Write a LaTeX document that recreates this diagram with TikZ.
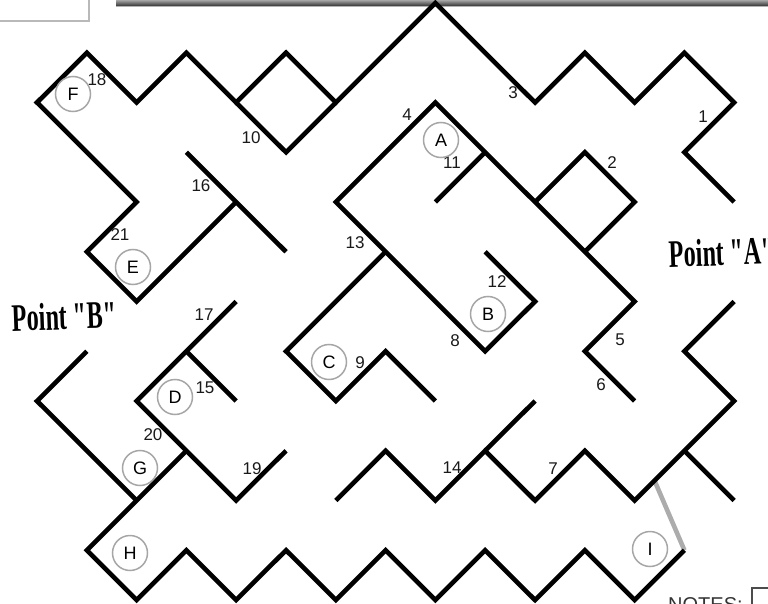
\documentclass[tikz,border=0pt]{standalone}
\usepackage{fontspec}
\setmainfont{Liberation Sans}
\newfontfamily\ptfont{Liberation Serif}
\begin{document}
\begin{tikzpicture}[x=1pt,y=-1pt,
  wall/.style={line width=4.6pt, black, line join=miter},
  lbl/.style={font=\fontsize{17}{17}\selectfont, inner sep=0pt, text=black!90},
  circ/.style={circle, draw=gray!70, line width=1.5pt, minimum size=35pt, inner sep=0pt, font=\fontsize{18}{18}\selectfont},
  ptlbl/.style={inner sep=0pt, font=\ptfont\bfseries\fontsize{39}{39}\selectfont}]
\useasboundingbox (0,0) rectangle (768,604);
% frames at the edges
\draw[gray!55, line width=1.5pt] (-5,-5) rectangle (89,21);
\shade[top color=gray!40, bottom color=black!80] (116,-2) rectangle (775,6);
\draw[gray!60, line width=1pt] (116,7) -- (775,7);
\node[anchor=north west, inner sep=0pt, font=\fontsize{20}{20}\selectfont, text=black!80] (notes) at (668,597.5) {NOTES:};
\draw[black!70, line width=1.5pt] (752,610) -- (752,588) -- (780,588);
% maze walls on the diagonal lattice
\begin{scope}[shift={(37pt,-3pt)}, x=49.8pt, y=-49.75pt]
\draw[line width=4.6pt, gray!65] (13,11) -- (12.4,9.6);
\draw[wall] (4,4)--(2,6)--(1,5)--(2,4)--(0,2)--(1,1)--(2,2)--(3,1)--(4,2)--(5,1)--(6,2)--(8,0)--(10,2)--(11,1)--(12,2)--(13,1)--(14,2)--(13,3)--(14,4);
\draw[wall] (4,2)--(5,3)--(6,2);
\draw[wall] (3,3)--(5,5);
\draw[wall] (9,5)--(10,6)--(9,7)--(6,4)--(8,2)--(12,6)--(11,7)--(12,8);
\draw[wall] (9,3)--(8,4);
\draw[wall] (10,4)--(11,3)--(12,4)--(11,5);
\draw[wall] (7,5)--(5,7)--(6,8)--(7,7)--(8,8);
\draw[wall] (14,6)--(13,7)--(14,8)--(12,10)--(11,9)--(10,10)--(9,9)--(8,10)--(7,9)--(6,10);
\draw[wall] (13,9)--(14,10);
\draw[wall] (9,9)--(10,8);
\draw[wall] (1,7)--(0,8)--(2,10);
\draw[wall] (4,6)--(3,7)--(2,8)--(4,10)--(5,9);
\draw[wall] (3,7)--(4,8);
\draw[wall] (3,9)--(1,11)--(2,12)--(3,11)--(4,12)--(5,11)--(6,12)--(7,11)--(8,12)--(9,11)--(10,12)--(11,11)--(12,12)--(13,11);
\end{scope}
% numbers
\node[lbl] (n1) at (703,117) {1};
\node[lbl] (n2) at (612,163) {2};
\node[lbl] (n3) at (513,93) {3};
\node[lbl] (n4) at (407,115) {4};
\node[lbl] (n5) at (620,340) {5};
\node[lbl] (n6) at (601,385) {6};
\node[lbl] (n7) at (553,469) {7};
\node[lbl] (n8) at (455,341) {8};
\node[lbl] (n9) at (360,363) {9};
\node[lbl] (n10) at (251,138) {10};
\node[lbl] (n11) at (452,163) {11};
\node[lbl] (n12) at (497,282) {12};
\node[lbl] (n13) at (355,243) {13};
\node[lbl] (n14) at (452,468) {14};
\node[lbl] (n15) at (205,388) {15};
\node[lbl] (n16) at (201,186) {16};
\node[lbl] (n17) at (204,315) {17};
\node[lbl] (n18) at (97,80) {18};
\node[lbl] (n19) at (252,469) {19};
\node[lbl] (n20) at (153,435) {20};
\node[lbl] (n21) at (120,235) {21};
% circled letters
\node[circ] (cF) at (73,94) {F};
\node[circ] (cA) at (441,140) {A};
\node[circ] (cE) at (133,267) {E};
\node[circ] (cB) at (488,314) {B};
\node[circ] (cC) at (329,362) {C};
\node[circ] (cD) at (175,397) {D};
\node[circ] (cG) at (140,468) {G};
\node[circ] (cH) at (130,553) {H};
\node[circ] (cI) at (650,549) {I};
% point labels
\node[ptlbl, anchor=west, rotate=2] (pB) at (12,318) {\scalebox{0.62}[1]{Point "B"}};
\node[ptlbl, anchor=west, rotate=2] (pA) at (669,254) {\scalebox{0.62}[1]{Point "A"}};
\end{tikzpicture}
\end{document}
